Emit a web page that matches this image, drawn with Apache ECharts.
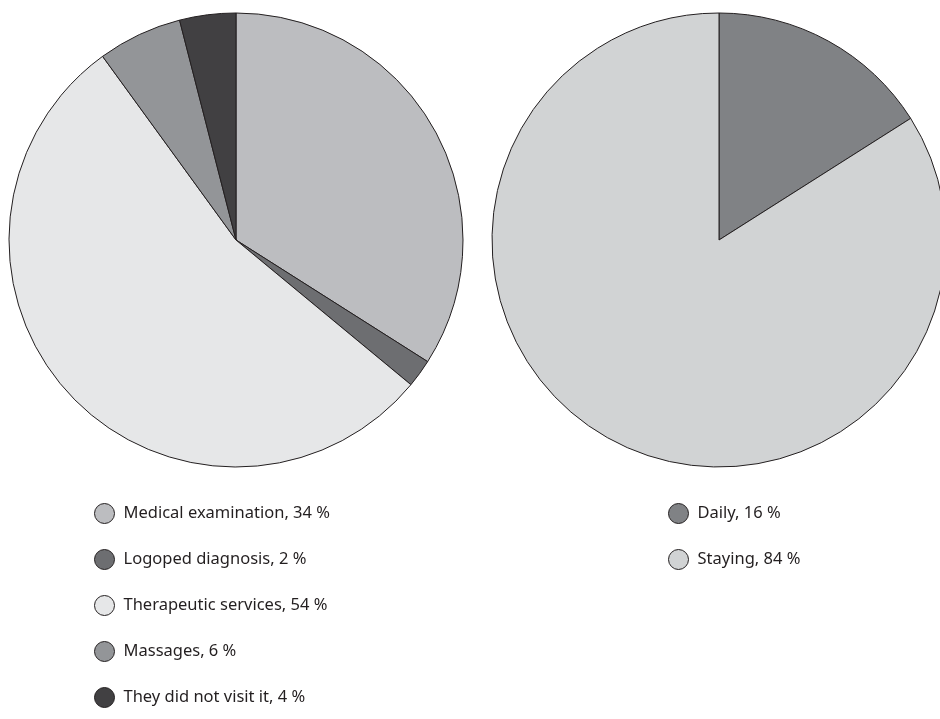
<!DOCTYPE html>
<html><head><meta charset="utf-8">
<script src="https://cdn.jsdelivr.net/npm/echarts@6/dist/echarts.min.js"></script>
<style>html,body{margin:0;padding:0;background:#fff}#c{width:940px;height:719px}</style>
</head><body><div id="c"></div>
<script>
var leftNames = ['Medical examination', 'Logoped diagnosis', 'Therapeutic services', 'Massages', 'They did not visit it'];
var leftValues = [34, 2, 54, 6, 4];
var leftColors = ['#bcbdc0', '#6d6e71', '#e6e7e8', '#939598', '#414042'];
var rightNames = ['Daily', 'Staying'];
var rightValues = [16, 84];
var rightColors = ['#808285', '#d1d3d4'];

var valueMap = {};
leftNames.forEach(function(n, i){ valueMap[n] = leftValues[i]; });
rightNames.forEach(function(n, i){ valueMap[n] = rightValues[i]; });

function mk(names, values, colors){
  return names.map(function(n, i){ return {name: n, value: values[i], itemStyle: {color: colors[i]}}; });
}
var chart = echarts.init(document.getElementById('c'));
var textStyle = {fontFamily: 'Noto Sans', fontSize: 16.5, color: '#231f20', lineHeight: 20, padding: [0, 0, 0, 4]};
var legendCommon = {
  orient: 'vertical', icon: 'circle', itemWidth: 20, itemHeight: 20, itemGap: 25,
  height: 300, padding: 0,
  textStyle: textStyle, selectedMode: false,
  itemStyle: {borderColor: '#231f20', borderWidth: 1},
  formatter: function(n){ return n + ', ' + valueMap[n] + ' %'; }
};
chart.setOption({
  animation: false,
  legend: [
    Object.assign({left: 94, top: 503, data: leftNames}, legendCommon),
    Object.assign({left: 668, top: 503, data: rightNames}, legendCommon)
  ],
  series: [
    {type: 'pie', center: [236, 240], radius: [0, 227], startAngle: 90, clockwise: true,
     label: {show: false}, labelLine: {show: false}, silent: true,
     itemStyle: {borderColor: '#231f20', borderWidth: 1},
     data: mk(leftNames, leftValues, leftColors)},
    {type: 'pie', center: [719, 240], radius: [0, 227], startAngle: 90, clockwise: true,
     label: {show: false}, labelLine: {show: false}, silent: true,
     itemStyle: {borderColor: '#231f20', borderWidth: 1},
     data: mk(rightNames, rightValues, rightColors)}
  ]
});
</script></body></html>
